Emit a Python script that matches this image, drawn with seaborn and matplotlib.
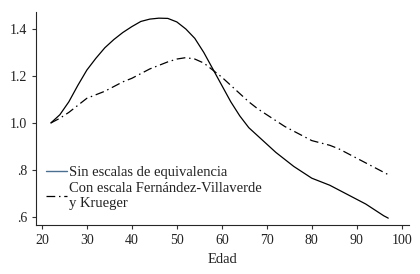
import numpy as np
import pandas as pd
import matplotlib
matplotlib.use("Agg")
import matplotlib.pyplot as plt
import seaborn as sns
from matplotlib.lines import Line2D

# edad y perfiles
edad = [22, 24, 26, 28, 30, 32, 34, 36, 38, 40, 42, 44, 46, 48, 50, 52, 54, 56, 58,
        60, 62, 64, 66, 68, 70, 72, 74, 76, 78, 80, 82, 84, 86, 88, 90, 92, 94, 96, 97]
sin_escalas = [1.0, 1.035, 1.09, 1.16, 1.225, 1.275, 1.32, 1.355, 1.385, 1.41, 1.432, 1.442,
               1.446, 1.445, 1.43, 1.40, 1.36, 1.30, 1.23, 1.16, 1.09, 1.03, 0.98, 0.945,
               0.91, 0.875, 0.845, 0.815, 0.79, 0.765, 0.75, 0.735, 0.715, 0.695, 0.675,
               0.655, 0.63, 0.605, 0.595]
con_escala = [1.0, 1.02, 1.045, 1.075, 1.105, 1.12, 1.135, 1.155, 1.175, 1.19, 1.21, 1.23,
              1.245, 1.26, 1.272, 1.278, 1.272, 1.255, 1.225, 1.195, 1.16, 1.125, 1.09,
              1.06, 1.035, 1.01, 0.985, 0.965, 0.945, 0.925, 0.915, 0.905, 0.89, 0.87,
              0.85, 0.83, 0.81, 0.79, 0.78]

etiquetas = ["Sin escalas de equivalencia",
             "Con escala Fernández-Villaverde\ny Krueger"]
yticks = [0.6, 0.8, 1.0, 1.2, 1.4]
ytick_labels = [".6", ".8", "1.0", "1.2", "1.4"]
xticks = [20, 30, 40, 50, 60, 70, 80, 90, 100]

sns.set_style("ticks")
plt.rcParams['font.family'] = ['Liberation Serif', 'DejaVu Serif']

df = pd.DataFrame({"Edad": edad, "sin": sin_escalas, "con": con_escala})

fig = plt.figure(figsize=(4.2, 2.74), dpi=100)
ax = fig.add_axes([0.0857, 0.179, 0.888, 0.777])

guion = (0, (7, 3, 1.2, 3))
sns.lineplot(data=df, x="Edad", y="sin", ax=ax, color="black", linewidth=0.9)
sns.lineplot(data=df, x="Edad", y="con", ax=ax, color="black", linewidth=0.9,
             linestyle=guion)

ax.set_xlim(18.7, 101.6)
ax.set_ylim(0.566, 1.472)
ax.set_xticks(xticks)
ax.set_yticks(yticks)
ax.set_yticklabels(ytick_labels)
ax.set_xlabel("Edad", fontsize=10.5, color="#222222")
ax.set_ylabel("")
ax.tick_params(labelsize=10, length=3, width=0.8, color="#333333", labelcolor="#222222")
sns.despine(ax=ax)
for s in ["left", "bottom"]:
    ax.spines[s].set_linewidth(0.8)

handles = [Line2D([], [], color="#4a6f8f", linewidth=1.0),
           Line2D([], [], color="black", linewidth=0.9, linestyle=guion)]
ax.legend(handles, etiquetas, loc="lower left", bbox_to_anchor=(0.0, 0.02),
          frameon=False, fontsize=10.5, handlelength=1.45, handletextpad=0.12,
          labelspacing=0.22, borderaxespad=0.3, labelcolor="#222222")
plt.setp(ax.get_legend().get_texts(), linespacing=1.25)

fig.savefig("out.png", dpi=100)
